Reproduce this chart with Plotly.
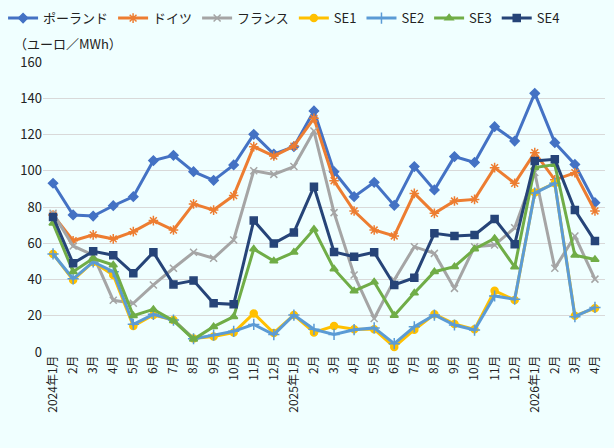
import plotly.graph_objects as go

months = ["2024年1月", "2月", "3月", "4月", "5月", "6月", "7月", "8月", "9月", "10月", "11月", "12月",
          "2025年1月", "2月", "3月", "4月", "5月", "6月", "7月", "8月", "9月", "10月", "11月", "12月",
          "2026年1月", "2月", "3月", "4月"]

poland = [93.1, 75.6, 75.0, 80.7, 85.7, 105.6, 108.5, 99.5, 94.7, 103.2, 120.1, 109.2, 113.3, 133.0,
          99.5, 85.7, 93.6, 80.9, 102.3, 89.4, 107.8, 104.6, 124.3, 116.4, 142.7, 115.5, 103.5, 82.4]
germany = [75.6, 61.4, 64.6, 62.4, 66.4, 72.5, 67.3, 81.7, 78.3, 86.3, 113.3, 108.1, 113.6, 128.9,
           94.5, 77.8, 67.3, 64.0, 87.5, 76.5, 83.3, 84.2, 101.7, 93.1, 110.0, 95.0, 98.9, 77.8]
france = [76.5, 58.5, 53.5, 28.5, 26.9, 37.0, 46.2, 55.0, 51.7, 61.8, 100.0, 98.0, 102.3, 121.9,
          76.9, 42.5, 18.5, 39.7, 58.1, 54.4, 35.1, 58.1, 59.0, 68.5, 99.0, 46.2, 64.0, 40.2]
se1 = [54.1, 39.7, 49.7, 42.5, 14.3, 20.4, 17.6, 7.5, 8.5, 10.7, 21.3, 10.5, 20.4, 10.8,
       14.3, 12.6, 12.5, 2.7, 12.3, 20.8, 15.5, 12.5, 33.8, 28.7, 88.0, 93.1, 20.0, 24.1]
se2 = [54.1, 40.4, 49.7, 44.3, 15.3, 20.8, 17.6, 7.3, 9.3, 11.4, 15.2, 9.6, 20.4, 12.5,
       9.7, 12.3, 13.3, 4.6, 13.9, 20.4, 14.9, 12.1, 30.9, 29.1, 87.7, 93.1, 19.5, 24.6]
se3 = [71.0, 44.3, 51.7, 48.0, 20.0, 23.5, 17.3, 7.0, 14.0, 19.5, 56.8, 50.2, 55.0, 67.7,
       45.8, 33.7, 38.6, 20.2, 32.5, 44.3, 47.1, 56.8, 62.7, 46.9, 101.8, 103.4, 53.4, 51.0]
se4 = [74.5, 48.9, 55.6, 53.4, 43.4, 55.0, 37.3, 39.4, 26.9, 26.3, 72.5, 59.9, 66.0, 91.2,
       55.2, 52.6, 55.0, 37.0, 41.0, 65.5, 64.0, 64.6, 73.4, 59.4, 105.4, 106.3, 78.3, 61.2]

series = [
    ("ポーランド", poland, "#4472C4", "diamond", 7),
    ("ドイツ", germany, "#ED7D31", "asterisk-open", 8),
    ("フランス", france, "#A5A5A5", "x-thin-open", 7),
    ("SE1", se1, "#FFC000", "circle", 7),
    ("SE2", se2, "#5B9BD5", "cross-thin-open", 8),
    ("SE3", se3, "#70AD47", "triangle-up", 7),
    ("SE4", se4, "#264478", "square", 7),
]

FONT = "Noto Sans CJK JP, Noto Sans, sans-serif"
x = list(range(len(months)))

fig = go.Figure()
for name, vals, color, sym, size in series:
    fig.add_trace(go.Scatter(
        x=x, y=vals, name=name, mode="lines+markers",
        line=dict(color=color, width=3),
        marker=dict(symbol=sym, size=size, color=color, line=dict(color=color, width=1.5)),
    ))

fig.update_layout(
    width=614, height=448,
    margin=dict(l=43, r=9, t=62, b=96),
    paper_bgcolor="#F0FFFF", plot_bgcolor="#F0FFFF",
    font=dict(family=FONT, size=13, color="#222222"),
    showlegend=True,
    legend=dict(orientation="h", x=0.005, xanchor="left", y=0.993, yanchor="top",
                xref="container", yref="container",
                font=dict(size=13, family=FONT), itemwidth=30,
                entrywidthmode="pixels", entrywidth=0,
                tracegroupgap=0, bgcolor="rgba(0,0,0,0)"),
    xaxis=dict(range=[-0.5, len(months) - 0.5], tickmode="array", tickvals=x, ticktext=months,
               tickangle=-90, showgrid=False, zeroline=False, showline=False,
               tickfont=dict(size=12, family=FONT, color="#222222"), ticks=""),
    yaxis=dict(range=[0, 160], dtick=20, tick0=0, showgrid=True, gridcolor="#D9D9D9",
               gridwidth=1, zeroline=False, showline=False,
               tickfont=dict(size=13, family=FONT, color="#222222"), ticks=""),
    annotations=[dict(text="（ユーロ／MWh）", xref="paper", yref="paper", x=-0.055, y=1.025,
                      xanchor="left", yanchor="bottom", showarrow=False,
                      font=dict(size=13, family=FONT, color="#222222"))],
)

fig.write_html("out.html")
